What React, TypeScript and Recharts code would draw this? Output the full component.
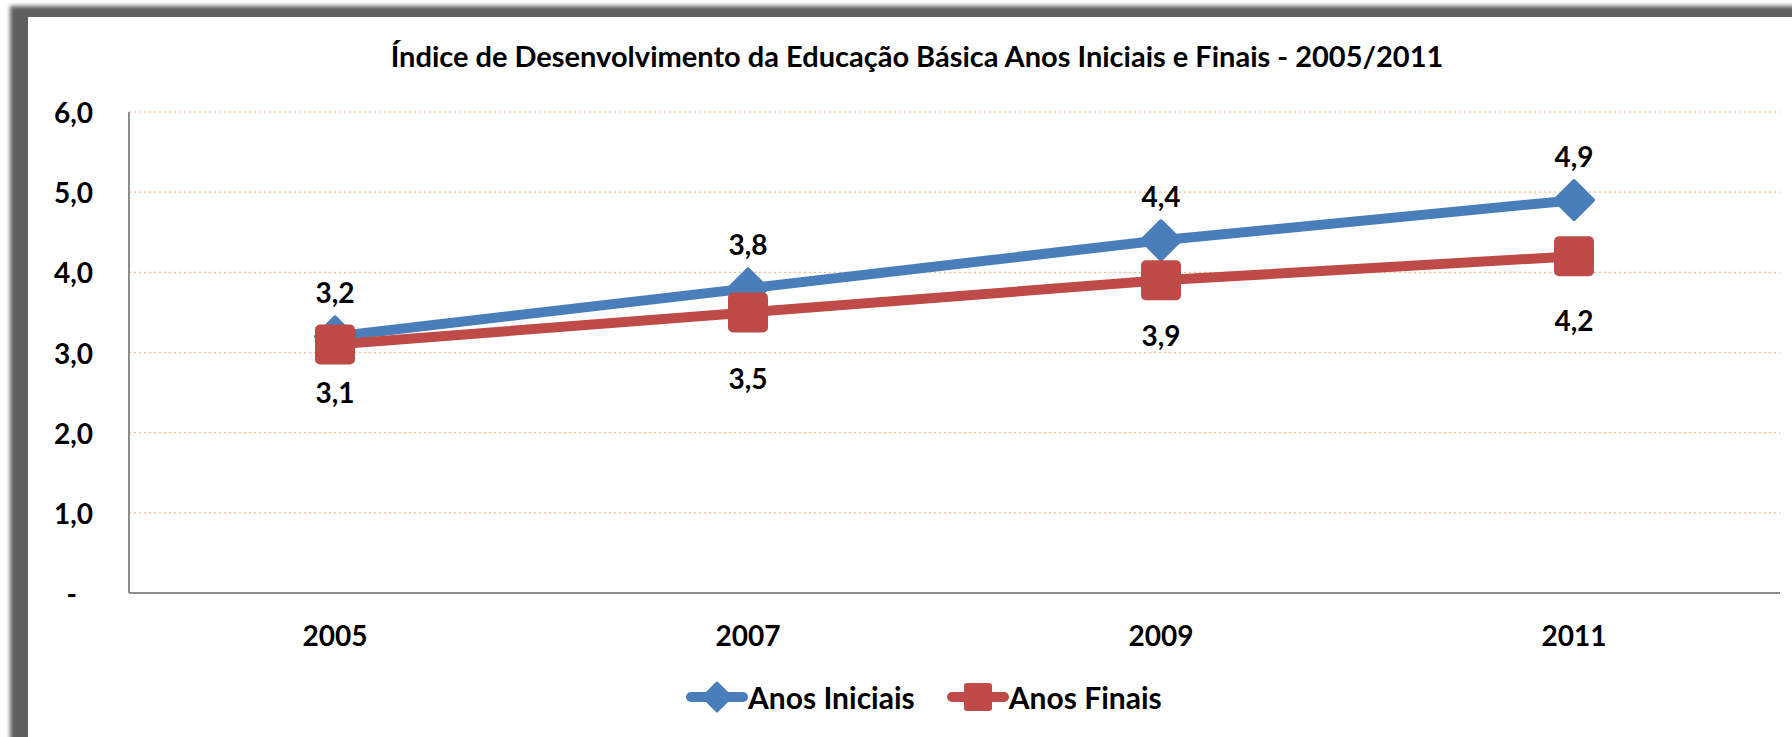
import React from 'react';
import { LineChart, Line, XAxis, YAxis, CartesianGrid, LabelList } from 'recharts';

const years = ['2005', '2007', '2009', '2011'];
const anosIniciais = [3.2, 3.8, 4.4, 4.9];
const anosFinais = [3.1, 3.5, 3.9, 4.2];
const yTicks = [0, 1, 2, 3, 4, 5, 6];

const chartData = years.map((year, i) => ({
  year,
  iniciais: anosIniciais[i],
  finais: anosFinais[i],
}));

const FONT = 'Lato, "Open Sans", sans-serif';
const BLUE = '#4A7EBB';
const RED = '#BE4B48';

// the "below" labels were nudged by hand in the original, so the gaps are uneven
const finaisLabelGap = [48, 66, 55, 64];

const fmt = (v: number) => (v === 0 ? '-' : v.toFixed(1).replace('.', ','));

const Diamond = (props: any) => {
  const { cx, cy } = props;
  if (cx == null || cy == null) return null;
  const r = 19;
  return (
    <path
      d={`M${cx},${cy - r} L${cx + r},${cy} L${cx},${cy + r} L${cx - r},${cy} Z`}
      fill={BLUE}
      stroke={BLUE}
      strokeWidth={4}
      strokeLinejoin="round"
    />
  );
};

const Square = (props: any) => {
  const { cx, cy } = props;
  if (cx == null || cy == null) return null;
  const s = 40;
  return <rect x={cx - s / 2} y={cy - s / 2} width={s} height={s} rx={5} fill={RED} />;
};

const pointOf = (props: any) => {
  const vb = props.viewBox || {};
  return { x: vb.x ?? props.x, y: vb.y ?? props.y };
};

const labelStyle = { fontFamily: FONT, fontWeight: 700, fontSize: 28, fill: '#000' };

const IniciaisLabel = (props: any) => {
  const { x, y } = pointOf(props);
  if (x == null || y == null) return null;
  return (
    <text x={x} y={y - 44} textAnchor="middle" dominantBaseline="central" style={labelStyle}>
      {fmt(Number(props.value))}
    </text>
  );
};

const FinaisLabel = (props: any) => {
  const { x, y } = pointOf(props);
  if (x == null || y == null) return null;
  const idx = anosFinais.indexOf(Number(props.value));
  const gap = finaisLabelGap[idx] ?? 56;
  return (
    <text x={x} y={y + gap} textAnchor="middle" dominantBaseline="central" style={labelStyle}>
      {fmt(Number(props.value))}
    </text>
  );
};

const YTick = (props: any) => {
  const { x, y, payload } = props;
  const v = Number(payload.value);
  return (
    <text
      x={v === 0 ? x - 16 : x}
      y={y}
      textAnchor="end"
      dominantBaseline="central"
      style={labelStyle}
    >
      {fmt(v)}
    </text>
  );
};

const XTick = (props: any) => {
  const { x, y, payload } = props;
  return (
    <text x={x} y={y + 34} textAnchor="middle" dominantBaseline="central" style={labelStyle}>
      {payload.value}
    </text>
  );
};

const LegendIcon = ({ color, shape }: { color: string; shape: 'diamond' | 'square' }) => (
  <svg width={62} height={36} style={{ display: 'block' }}>
    <line x1={5} y1={18} x2={57} y2={18} stroke={color} strokeWidth={10} strokeLinecap="round" />
    {shape === 'diamond' ? (
      <path d="M31,4 L45,18 L31,32 L17,18 Z" fill={color} stroke={color} strokeWidth={3} strokeLinejoin="round" />
    ) : (
      <rect x={17} y={4} width={28} height={28} rx={3} fill={color} />
    )}
  </svg>
);

const App: React.FC = () => {
  return (
    <div style={{ position: 'fixed', left: 0, top: 0, width: 1792, height: 737, background: '#fff', overflow: 'hidden' }}>
      {/* shadowed frame on the left and top edges */}
      <div style={{ position: 'absolute', left: 10, top: 6, width: 1850, height: 800, background: '#5f5f5f', filter: 'blur(2px)' }} />
      <div style={{ position: 'absolute', left: 28, top: 17, width: 1850, height: 800, background: '#fff' }} />

      <div
        style={{
          position: 'absolute',
          left: 42,
          right: 0,
          top: 40,
          height: 32,
          lineHeight: '32px',
          textAlign: 'center',
          fontFamily: FONT,
          fontWeight: 700,
          fontSize: 29,
          color: '#000',
          whiteSpace: 'nowrap',
        }}
      >
        Índice de Desenvolvimento da Educação Básica Anos Iniciais e Finais - 2005/2011
      </div>

      <div style={{ position: 'absolute', left: 0, top: 0 }}>
        <LineChart width={1792} height={737} data={chartData} margin={{ top: 112, right: 12, bottom: 84, left: 0 }}>
          <CartesianGrid vertical={false} stroke="#F8B888" strokeDasharray="2 3" strokeWidth={1.2} />
          <XAxis
            dataKey="year"
            height={60}
            padding={{ left: 206, right: 206 }}
            axisLine={{ stroke: '#8C8C8C', strokeWidth: 2 }}
            tickLine={false}
            tick={<XTick />}
            interval={0}
          />
          <YAxis
            width={129}
            domain={[0, 6]}
            ticks={yTicks}
            interval={0}
            axisLine={{ stroke: '#8C8C8C', strokeWidth: 2 }}
            tickLine={false}
            tickMargin={30}
            tick={<YTick />}
          />
          <Line
            type="linear"
            dataKey="iniciais"
            name="Anos Iniciais"
            stroke={BLUE}
            strokeWidth={10}
            strokeLinejoin="round"
            dot={<Diamond />}
            activeDot={false}
            isAnimationActive={false}
          >
            <LabelList dataKey="iniciais" content={<IniciaisLabel />} />
          </Line>
          <Line
            type="linear"
            dataKey="finais"
            name="Anos Finais"
            stroke={RED}
            strokeWidth={10}
            strokeLinejoin="round"
            dot={<Square />}
            activeDot={false}
            isAnimationActive={false}
          >
            <LabelList dataKey="finais" content={<FinaisLabel />} />
          </Line>
        </LineChart>
      </div>

      <div
        style={{
          position: 'absolute',
          left: 686,
          top: 679,
          height: 36,
          display: 'flex',
          alignItems: 'center',
          fontFamily: FONT,
          fontWeight: 700,
          fontSize: 30,
          color: '#000',
          whiteSpace: 'nowrap',
        }}
      >
        <LegendIcon color={BLUE} shape="diamond" />
        <span style={{ marginRight: 32 }}>Anos Iniciais</span>
        <LegendIcon color={RED} shape="square" />
        <span>Anos Finais</span>
      </div>
    </div>
  );
};

export default App;
